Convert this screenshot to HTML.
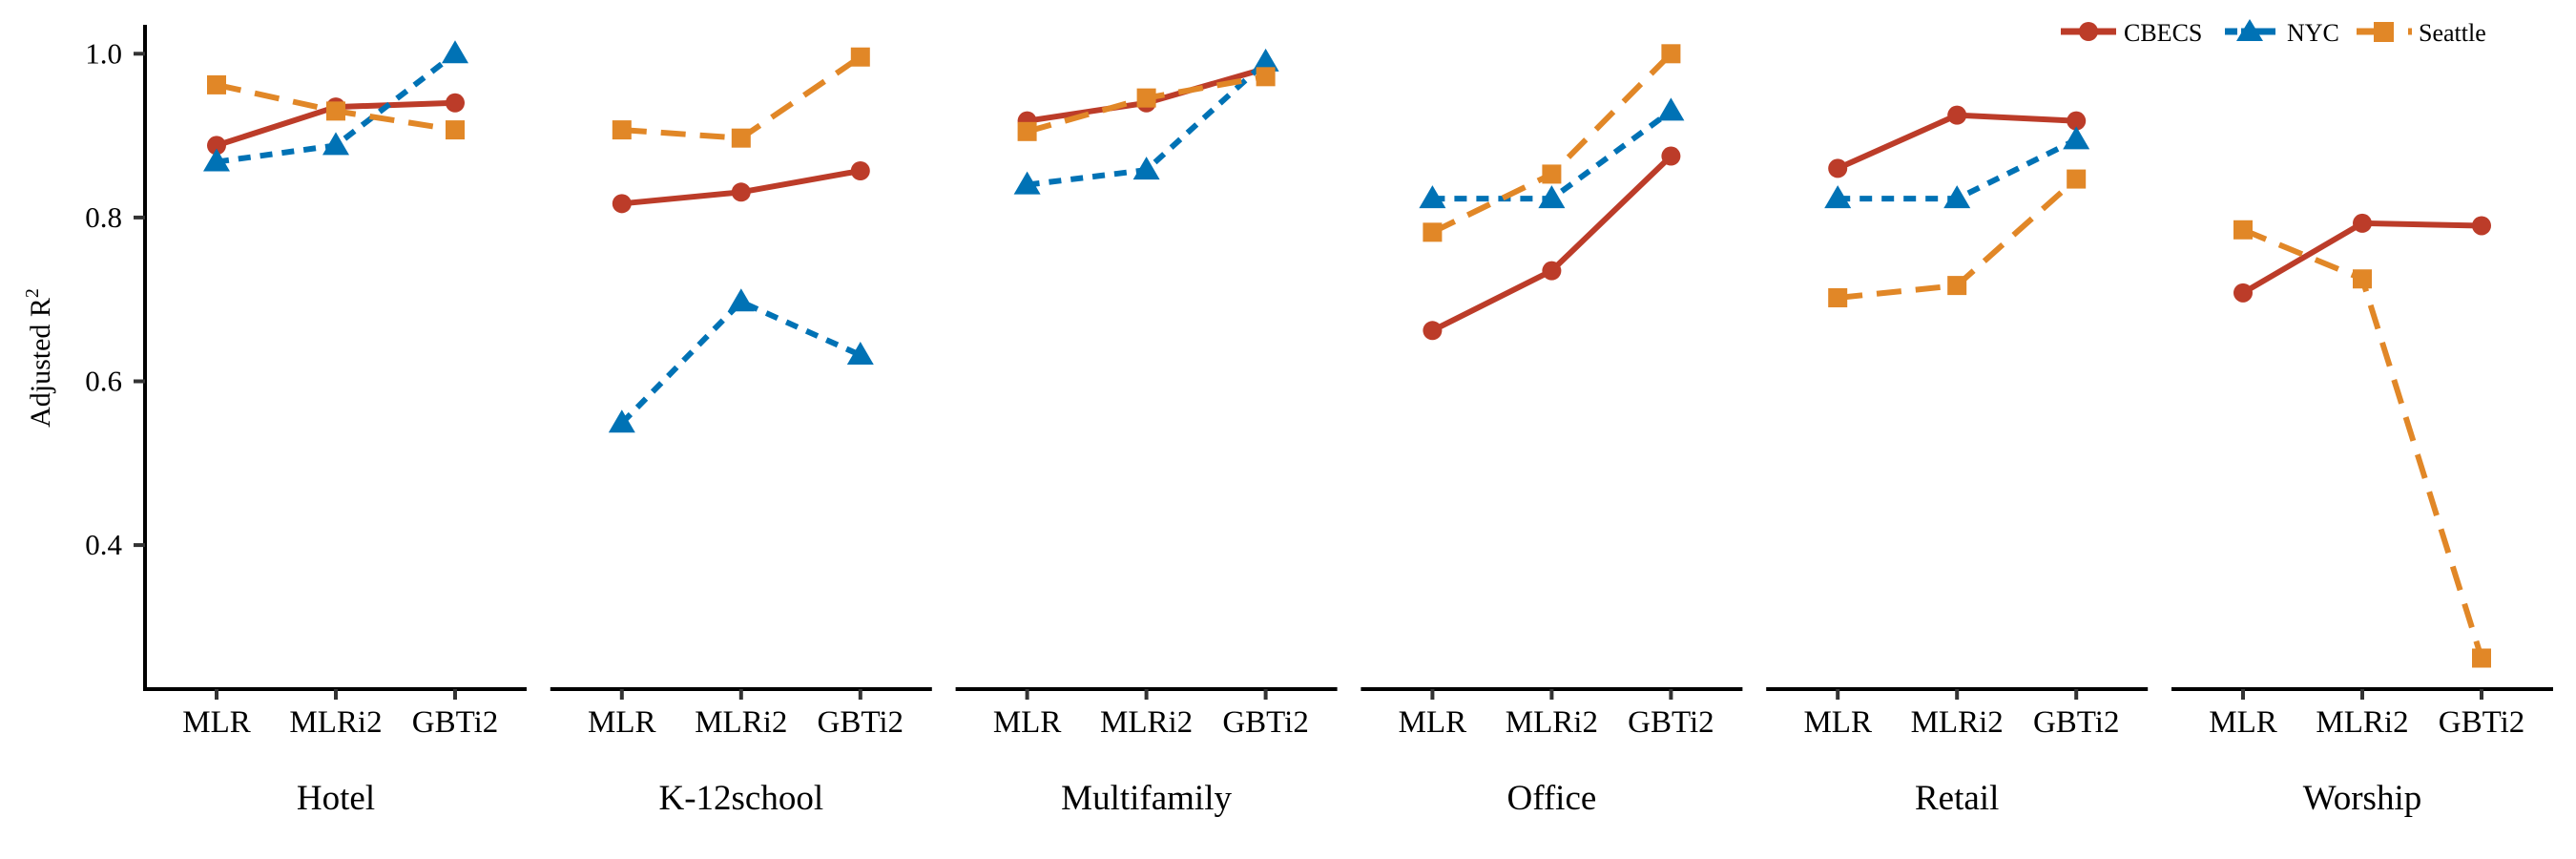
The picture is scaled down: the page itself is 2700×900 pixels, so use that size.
<!DOCTYPE html>
<html><head><meta charset="utf-8"><style>
html,body{margin:0;padding:0;background:#fff}
svg{display:block;font-family:"Liberation Serif",serif}
</style></head><body>
<svg id="chart" width="2700" height="900" viewBox="0 0 2700 900" xmlns="http://www.w3.org/2000/svg">
<text transform="translate(52,375) rotate(-90)" text-anchor="middle" font-size="30">Adjusted R<tspan font-size="20" dy="-12">2</tspan></text>
<g>
 <g>
  <line x1="2160" y1="33" x2="2218" y2="33" stroke="#bc3c29" stroke-width="7"/>
  <circle cx="2189" cy="33" r="10" fill="#bc3c29"/>
  <text x="2226" y="43" font-size="26">CBECS</text>
 </g>
 <g>
  <line x1="2332" y1="33" x2="2385" y2="33" stroke="#0072b5" stroke-width="7" stroke-dasharray="13,4,36"/>
  <polygon points="2358,20 2372,43 2344,43" fill="#0072b5"/>
  <text x="2397" y="43" font-size="26">NYC</text>
 </g>
 <g>
  <line x1="2470" y1="33" x2="2528" y2="33" stroke="#e18727" stroke-width="7" stroke-dasharray="25,29,4"/>
  <rect x="2488" y="23" width="21" height="21" fill="#e18727"/>
  <text x="2535" y="43" font-size="26">Seattle</text>
 </g>
</g>
<g id="plot"></g>
</svg>
<script>
const facets = ["Hotel","K-12school","Multifamily","Office","Retail","Worship"];
const models = ["MLR","MLRi2","GBTi2"];
const yTicks = [0.4,0.6,0.8,1.0];
const yTickLabels = ["0.4","0.6","0.8","1.0"];
const cbecs = [[0.888,0.935,0.940],[0.817,0.831,0.857],[0.918,0.940,0.982],[0.662,0.735,0.875],[0.860,0.925,0.918],[0.708,0.793,0.790]];
const nyc = [[0.868,0.888,1.0],[0.549,0.697,0.632],[0.840,0.858,0.990],[0.823,0.823,0.930],[0.823,0.823,0.895],null];
const seattle = [[0.962,0.930,0.907],[0.907,0.897,0.996],[0.905,0.946,0.972],[0.782,0.853,1.0],[0.702,0.717,0.847],[0.785,0.725,0.262]];

const NS="http://www.w3.org/2000/svg";
const plot=document.getElementById('plot');
const Y0=56.3, K=858, AXB=722, AXT=26;
function y(v){return Y0+(1-v)*K;}
function panelX(i){return 152+i*424.8;}
function x(i,j){return panelX(i)+75+j*125;}
function mk(tag,attrs,parent){const e=document.createElementNS(NS,tag);for(const k in attrs)e.setAttribute(k,attrs[k]);(parent||plot).appendChild(e);return e;}

// y axis
const yax=mk('g',{});


mk('line',{x1:152,y1:AXT,x2:152,y2:AXB+2,stroke:'#000','stroke-width':4},yax);
yTicks.forEach((t,k)=>{
  mk('line',{x1:140,y1:y(t),x2:152,y2:y(t),stroke:'#333','stroke-width':4},yax);
  const tx=mk('text',{x:128,y:y(t)+10,'text-anchor':'end','font-size':31},yax);
  
  
  tx.textContent=yTickLabels[k];
});

const series=[
 {name:'cbecs',data:cbecs,color:'#bc3c29',dash:null,shape:'circle'},
 {name:'nyc',data:nyc,color:'#0072b5',dash:'13,10',shape:'tri'},
 {name:'seattle',data:seattle,color:'#e18727',dash:'26,15',shape:'sq'}
];

facets.forEach((f,i)=>{
  const g=mk('g',{});
  
  
  const px=panelX(i);
  mk('line',{x1:(i==0?150:px),y1:AXB,x2:px+400,y2:AXB,stroke:'#000','stroke-width':4},g);
  models.forEach((m,j)=>{
    mk('line',{x1:x(i,j),y1:AXB,x2:x(i,j),y2:AXB+11,stroke:'#333','stroke-width':4},g);
    const t=mk('text',{x:x(i,j),y:767,'text-anchor':'middle','font-size':33},g);
    
    
    t.textContent=m;
  });
  const ft=mk('text',{x:px+200,y:848,'text-anchor':'middle','font-size':37},g);
  
  
  ft.textContent=f;
  series.forEach(s=>{
    const d=s.data[i]; if(!d) return;
    const sg=mk('g',{},g);
    
    
    const pts=d.map((v,j)=>x(i,j)+','+y(v)).join(' ');
    const pl=mk('polyline',{points:pts,fill:'none',stroke:s.color,'stroke-width':6},sg);
    if(s.dash) pl.setAttribute('stroke-dasharray',s.dash);
    
    
    d.forEach((v,j)=>{
      const cx=x(i,j), cy=y(v); let e;
      if(s.shape=='circle') e=mk('circle',{cx:cx,cy:cy,r:10,fill:s.color},sg);
      else if(s.shape=='sq') e=mk('rect',{x:cx-10,y:cy-10,width:20,height:20,fill:s.color},sg);
      else e=mk('polygon',{points:(cx)+','+(cy-14)+' '+(cx+14)+','+(cy+10)+' '+(cx-14)+','+(cy+10),fill:s.color},sg);
      
      
    });
  });
});
</script>
</body></html>
